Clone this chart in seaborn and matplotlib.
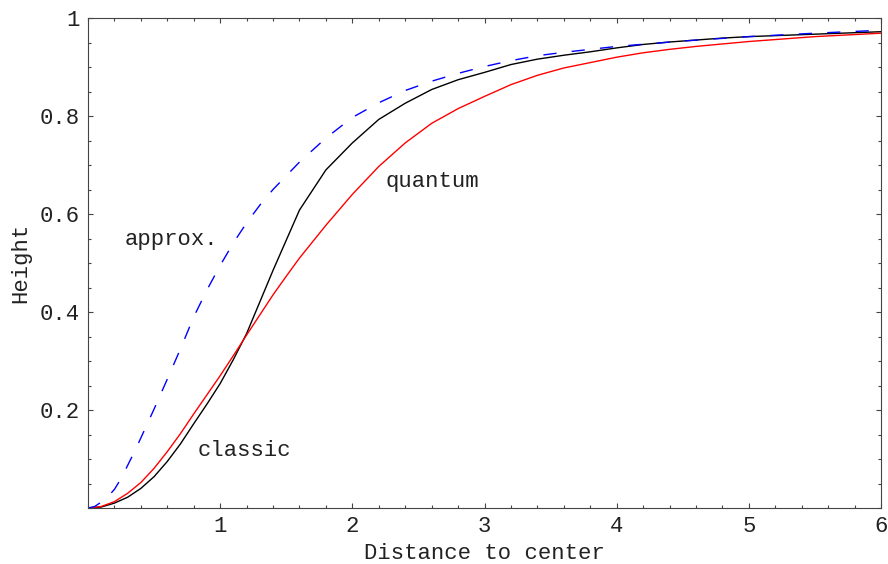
import numpy as np
import pandas as pd
import matplotlib
matplotlib.use("Agg")
import matplotlib.pyplot as plt
import seaborn as sns
from matplotlib.ticker import MultipleLocator, FixedLocator

# --- data ---
dist_classic = [0, 0.1, 0.2, 0.3, 0.4, 0.5, 0.6, 0.7, 0.8, 0.9, 1.0, 1.1, 1.2, 1.4,
                1.6, 1.8, 2.0, 2.2, 2.4, 2.6, 2.8, 3.0, 3.2, 3.4, 3.6, 3.8, 4.0,
                4.2, 4.4, 4.6, 4.8, 5.0, 5.5, 6.0]
height_classic = [0, 0.002, 0.010, 0.022, 0.040, 0.064, 0.095, 0.131, 0.172, 0.212,
                  0.254, 0.303, 0.356, 0.485, 0.608, 0.690, 0.745, 0.793, 0.826,
                  0.854, 0.874, 0.889, 0.905, 0.916, 0.924, 0.931, 0.939, 0.946,
                  0.951, 0.955, 0.959, 0.962, 0.967, 0.972]

dist_quantum = [0, 0.1, 0.2, 0.3, 0.4, 0.5, 0.6, 0.7, 0.8, 0.9, 1.0, 1.1, 1.2, 1.3,
                1.4, 1.5, 1.6, 1.8, 2.0, 2.2, 2.4, 2.6, 2.8, 3.0, 3.2, 3.4, 3.6,
                3.8, 4.0, 4.2, 4.4, 4.6, 4.8, 5.0, 5.5, 6.0]
height_quantum = [0, 0.003, 0.013, 0.030, 0.052, 0.081, 0.115, 0.152, 0.192, 0.231,
                  0.270, 0.311, 0.353, 0.394, 0.435, 0.473, 0.510, 0.577, 0.640,
                  0.697, 0.745, 0.785, 0.815, 0.840, 0.864, 0.883, 0.898, 0.909,
                  0.920, 0.929, 0.936, 0.942, 0.947, 0.952, 0.962, 0.969]

dist_approx = [0, 0.05, 0.1, 0.15, 0.2, 0.25, 0.3, 0.35, 0.4, 0.5, 0.6, 0.7, 0.8,
               0.9, 1.0, 1.1, 1.2, 1.3, 1.4, 1.6, 1.8, 2.0, 2.2, 2.4, 2.6, 2.8,
               3.0, 3.2, 3.4, 3.6, 4.0, 4.5, 5.0, 5.5, 6.0]
height_approx = [0, 0.003, 0.012, 0.023, 0.038, 0.060, 0.087, 0.114, 0.143, 0.202,
                 0.263, 0.325, 0.390, 0.445, 0.495, 0.541, 0.582, 0.618, 0.650,
                 0.706, 0.755, 0.797, 0.827, 0.852, 0.871, 0.887, 0.901, 0.913,
                 0.923, 0.930, 0.942, 0.953, 0.962, 0.969, 0.975]

labels = ["approx.", "quantum", "classic"]
label_x = [0.28, 2.25, 0.83]
label_y = [0.537, 0.656, 0.106]

sns.set_style("ticks")
plt.rcParams['font.family'] = ['Liberation Mono', 'DejaVu Sans']
plt.rcParams['font.size'] = 16

fig = plt.figure(figsize=(8.88, 5.64), dpi=100)
ax = fig.add_axes([88 / 888, 1 - 508 / 564, (881 - 88) / 888, (508 - 18) / 564])

sns.lineplot(x=dist_classic, y=height_classic, ax=ax, color='black', lw=1.0)
sns.lineplot(x=dist_quantum, y=height_quantum, ax=ax, color='#ff0000', lw=1.0)
sns.lineplot(x=dist_approx, y=height_approx, ax=ax, color='#0000ff', lw=1.0)
# long Mathematica-style dashes for the approximation
ax.lines[2].set_linestyle((0, (9.5, 11.0)))

for txt, tx, ty in zip(labels, label_x, label_y):
    ax.text(tx, ty, txt, fontsize=16, color='#222222', va='baseline', ha='left')

ax.set_xlim(0, 6)
ax.set_ylim(0, 1)
ax.xaxis.set_major_locator(FixedLocator([1, 2, 3, 4, 5, 6]))
ax.xaxis.set_minor_locator(MultipleLocator(0.2))
ax.yaxis.set_major_locator(FixedLocator([0.2, 0.4, 0.6, 0.8, 1.0]))
ax.yaxis.set_minor_locator(MultipleLocator(0.05))
ax.set_xticklabels(['1', '2', '3', '4', '5', '6'])
ax.set_yticklabels(['0.2', '0.4', '0.6', '0.8', '1'])

ax.tick_params(which='both', direction='in', top=True, right=True,
               color='#444444', width=0.8)
ax.tick_params(which='major', length=3.6, pad=6, labelsize=16, labelcolor='#222222')
ax.tick_params(which='minor', length=2.0)
for sp in ax.spines.values():
    sp.set_visible(True)
    sp.set_color('#444444')
    sp.set_linewidth(0.8)

ax.set_xlabel('Distance to center', fontsize=16, color='#222222', labelpad=4)
ax.set_ylabel('Height', fontsize=16, color='#222222', labelpad=6)

fig.savefig('out.png', dpi=100)
